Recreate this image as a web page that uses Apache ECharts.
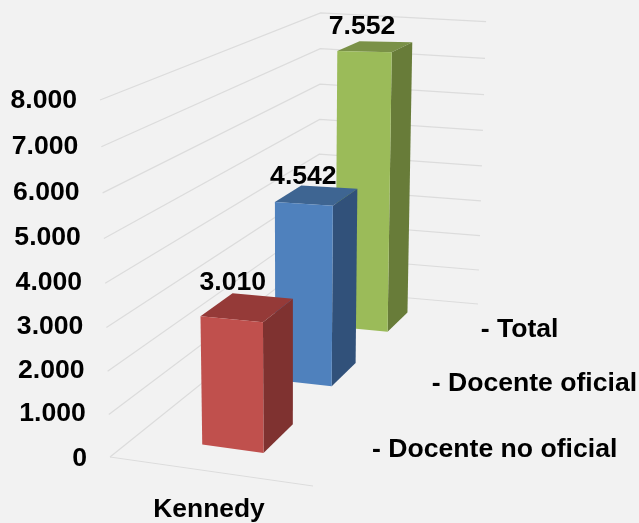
<!DOCTYPE html>
<html>
<head>
<meta charset="utf-8">
<style>html,body{margin:0;padding:0;background:#f2f2f2}#c{width:639px;height:523px}</style>
<script src="https://cdn.jsdelivr.net/npm/echarts@6/dist/echarts.min.js"></script>
</head>
<body>
<div id="c"></div>
<script>
var categories = ['Kennedy'];
var seriesNames = ['- Docente no oficial', '- Docente oficial', '- Total'];
var docenteNoOficial = [3010];
var docenteOficial = [4542];
var total = [7552];
var valueLabels = [['3.010'], ['4.542'], ['7.552']];
var yTicks = [0, 1000, 2000, 3000, 4000, 5000, 6000, 7000, 8000];
var yTickLabels = ['0', '1.000', '2.000', '3.000', '4.000', '5.000', '6.000', '7.000', '8.000'];
var yMax = 8000;

var FONT = '"Liberation Sans", Arial, sans-serif';
var FONT_SIZE = 26.6;

// Scene projection: floor quad (front-left, front-right, back-right, back-left)
var Q = [[110, 457], [313, 486], [478, 304], [318, 290]];
var VP = [290, 6904], VS = -0.05247;
var sx = Q[0][0] - Q[1][0] + Q[2][0] - Q[3][0], sy = Q[0][1] - Q[1][1] + Q[2][1] - Q[3][1];
var dx1 = Q[1][0] - Q[2][0], dx2 = Q[3][0] - Q[2][0], dy1 = Q[1][1] - Q[2][1], dy2 = Q[3][1] - Q[2][1];
var det = dx1 * dy2 - dx2 * dy1;
var G = (sx * dy2 - dx2 * sy) / det, H = (dx1 * sy - sx * dy1) / det;
var A = Q[1][0] - Q[0][0] + G * Q[1][0], B = Q[3][0] - Q[0][0] + H * Q[3][0], C = Q[0][0];
var D = Q[1][1] - Q[0][1] + G * Q[1][1], E = Q[3][1] - Q[0][1] + H * Q[3][1], F = Q[0][1];
function proj(u, w, h) {
  var den = G * u + H * w + 1;
  var X = A * u + B * w + C + h * VS * VP[0];
  var Y = D * u + E * w + F + h * VS * VP[1];
  var W = den + h * VS;
  return [X / W, Y / W];
}
var GRID = {left: 107, top: 100, width: 204, height: 357};
function heightOf(api, params, v) {
  var y = api.coord([0, v])[1];
  return (params.coordSys.y + params.coordSys.height - y) / params.coordSys.height;
}
function poly(pts, color) {
  return {type: 'polygon', shape: {points: pts}, style: {fill: color}, silent: true};
}
function txt(s, x, y, align) {
  return {type: 'text', silent: true, style: {text: s, x: x, y: y, align: align, verticalAlign: 'middle',
    fill: '#000', fontSize: FONT_SIZE, fontWeight: 'bold', fontFamily: FONT}};
}
function renderGrid(params, api) {
  var v = api.value(1), h = heightOf(api, params, v);
  var a = proj(0, 0, h), c = proj(0, 1, h), d = proj(1, 1, h);
  c = [c[0] + 1.5 * h, c[1] - 5 * h];
  d = [d[0], d[1] + 2 * h];
  var line = {stroke: '#dcdcdc', lineWidth: 1.2, fill: null};
  var kids = [{type: 'polyline', shape: {points: [a, c, d]}, style: line, silent: true}];
  if (v === 0) kids.push({type: 'polyline', shape: {points: [a, proj(1, 0, 0)]}, style: line, silent: true});
  kids.push(txt(yTickLabels[params.dataIndex], a[0] - 23, a[1] + (v === 0 ? 2 : v === yMax ? 1 : -0.5), 'right'));
  return {type: 'group', children: kids};
}
var PALETTE = [
  {front: '#c0504d', side: '#7f3230', top: '#953a38'},
  {front: '#4f81bd', side: '#31517a', top: '#3e6592'},
  {front: '#9bbb59', side: '#687c39', top: '#7a9147'}
];
var LABEL_DX = [1, -0.5, -2.5], LABEL_DY = [-13, -11, -15];
function renderBar(idx) {
  return function (params, api) {
    var cs = params.coordSys;
    var cx = api.coord([api.value(0), 0])[0];
    var uc = (cx - cs.x) / cs.width;
    var uw = api.size([1, 0])[0] / cs.width * 0.31;
    var u0 = uc - uw / 2, u1 = uc + uw / 2;
    var wc = (idx + 0.5) / 3, w0 = wc - 0.0675, w1 = wc + 0.0675;
    var h = heightOf(api, params, api.value(1));
    var col = PALETTE[idx];
    var fl = proj(u0, w0, 0), fr = proj(u1, w0, 0), br = proj(u1, w1, 0);
    var tfl = proj(u0, w0, h), tfr = proj(u1, w0, h), tbr = proj(u1, w1, h), tbl = proj(u0, w1, h);
    var lx = (tfl[0] + tfr[0]) / 2 + LABEL_DX[idx];
    var ly = (tbl[1] + tbr[1]) / 2 + LABEL_DY[idx];
    var leg = proj(1, wc, 0);
    return {type: 'group', children: [
      poly([tfl, tfr, tbr, tbl], col.top),
      poly([tfr, fr, br, tbr], col.side),
      poly([tfl, fl, fr, tfr], col.front),
      txt(valueLabels[idx][params.dataIndex], lx, ly, 'center'),
      txt(seriesNames[idx], leg[0] + 24, leg[1] + 2, 'left')
    ]};
  };
}
function barSeries(idx, values) {
  return {
    type: 'custom', name: seriesNames[idx], clip: false, silent: true,
    renderItem: renderBar(idx), encode: {x: 0, y: 1},
    data: values.map(function (v, i) { return [i, v]; })
  };
}
var chart = echarts.init(document.getElementById('c'));
chart.setOption({
  backgroundColor: '#f2f2f2',
  animation: false,
  tooltip: {show: false},
  grid: GRID,
  xAxis: {
    type: 'category', data: categories,
    axisLine: {show: false}, axisTick: {show: false}, splitLine: {show: false},
    axisLabel: {margin: 42, color: '#000', fontSize: 26.4, fontWeight: 'bold', fontFamily: FONT}
  },
  yAxis: {
    type: 'value', min: 0, max: yMax, interval: 1000,
    axisLine: {show: false}, axisTick: {show: false}, splitLine: {show: false}, axisLabel: {show: false}
  },
  series: [
    {type: 'custom', clip: false, silent: true, renderItem: renderGrid, encode: {x: 0, y: 1},
      data: yTicks.map(function (t) { return [0, t]; })},
    barSeries(2, total),
    barSeries(1, docenteOficial),
    barSeries(0, docenteNoOficial)
  ]
});
</script>
</body>
</html>
